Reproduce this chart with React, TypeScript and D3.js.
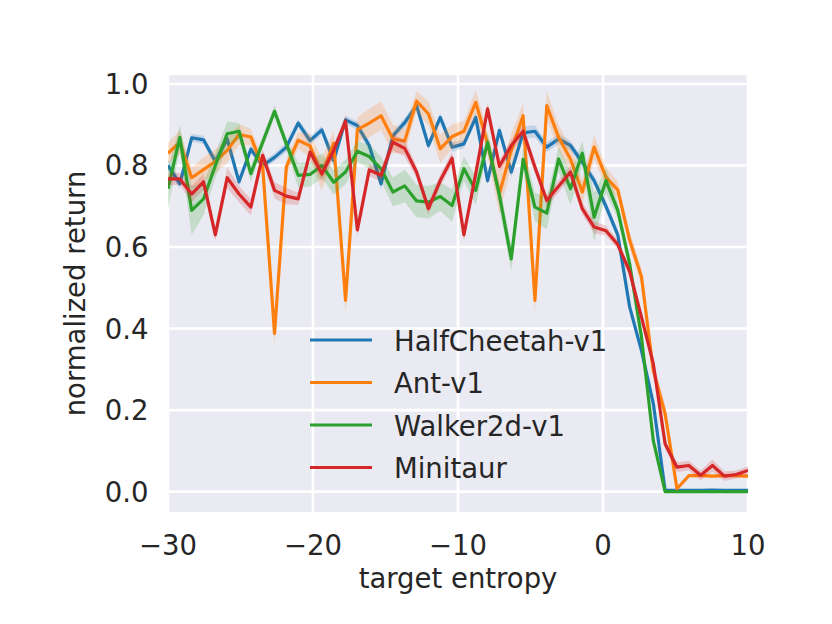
import React from "react";
import * as d3 from "d3";

const xTicks = [-30, -20, -10, 0, 10];
const yTicks = [0.0, 0.2, 0.4, 0.6, 0.8, 1.0];
const seriesNames = ["HalfCheetah-v1", "Ant-v1", "Walker2d-v1", "Minitaur"];
const seriesColors = ["#1f77b4", "#ff7f0e", "#2ca02c", "#d62728"];

// target entropy values: 50 evenly spaced settings between -30 and 10
const entropyStart = -30;
const entropyEnd = 10;
const entropyCount = 50;

const halfCheetah = [
  0.80, 0.755, 0.868, 0.863, 0.81, 0.865, 0.76, 0.84, 0.80, 0.82,
  0.845, 0.904, 0.861, 0.887, 0.812, 0.912, 0.898, 0.849, 0.755, 0.873,
  0.905, 0.947, 0.849, 0.918, 0.845, 0.853, 0.918, 0.763, 0.886, 0.784,
  0.88, 0.884, 0.845, 0.865, 0.849, 0.808, 0.763, 0.70, 0.63, 0.453,
  0.346, 0.216, 0.003, 0.003, 0.003, 0.003, 0.004, 0.003, 0.003, 0.003,
];
const ant = [
  0.83, 0.857, 0.77, 0.79, 0.81, 0.837, 0.876, 0.87, 0.797, 0.388,
  0.797, 0.862, 0.848, 0.778, 0.855, 0.469, 0.888, 0.904, 0.922, 0.865,
  0.86, 0.958, 0.927, 0.841, 0.871, 0.884, 0.955, 0.853, 0.731, 0.837,
  0.922, 0.469, 0.947, 0.869, 0.816, 0.735, 0.845, 0.771, 0.74, 0.617,
  0.527, 0.297, 0.191, 0.007, 0.039, 0.04, 0.038, 0.039, 0.039, 0.038,
];
const walker = [
  0.743, 0.869, 0.69, 0.718, 0.80, 0.878, 0.884, 0.78, 0.857, 0.933,
  0.853, 0.776, 0.778, 0.80, 0.759, 0.784, 0.835, 0.822, 0.792, 0.735,
  0.75, 0.713, 0.71, 0.724, 0.702, 0.792, 0.739, 0.857, 0.727, 0.571,
  0.815, 0.698, 0.683, 0.816, 0.743, 0.83, 0.673, 0.763, 0.69, 0.559,
  0.379, 0.125, 0.0, 0.0, 0.0, 0.0, 0.0, 0.0, 0.0, 0.0,
];
const minitaur = [
  0.767, 0.767, 0.73, 0.76, 0.63, 0.77, 0.73, 0.698, 0.825, 0.739,
  0.725, 0.718, 0.833, 0.78, 0.837, 0.909, 0.642, 0.789, 0.776, 0.857,
  0.842, 0.784, 0.694, 0.763, 0.818, 0.63, 0.78, 0.939, 0.798, 0.849,
  0.884, 0.796, 0.714, 0.749, 0.784, 0.694, 0.649, 0.64, 0.606, 0.54,
  0.428, 0.314, 0.117, 0.06, 0.064, 0.04, 0.064, 0.038, 0.042, 0.052,
];

// half-width of the shaded spread around each curve
const halfCheetahSpread = [
  0.015, 0.012, 0.01, 0.01, 0.012, 0.01, 0.012, 0.01, 0.01, 0.01,
  0.012, 0.01, 0.012, 0.01, 0.015, 0.01, 0.01, 0.012, 0.015, 0.01,
  0.012, 0.01, 0.012, 0.01, 0.012, 0.01, 0.012, 0.012, 0.012, 0.012,
  0.015, 0.015, 0.012, 0.012, 0.012, 0.01, 0.012, 0.012, 0.012, 0.012,
  0.012, 0.01, 0.003, 0.003, 0.003, 0.003, 0.003, 0.003, 0.003, 0.003,
];
const antSpread = [
  0.025, 0.03, 0.025, 0.03, 0.03, 0.03, 0.025, 0.02, 0.02, 0.03,
  0.02, 0.02, 0.03, 0.04, 0.03, 0.03, 0.03, 0.035, 0.035, 0.035,
  0.03, 0.025, 0.03, 0.035, 0.03, 0.025, 0.03, 0.03, 0.05, 0.04,
  0.03, 0.03, 0.035, 0.03, 0.03, 0.03, 0.03, 0.025, 0.02, 0.02,
  0.02, 0.02, 0.02, 0.005, 0.005, 0.005, 0.005, 0.005, 0.005, 0.005,
];
const walkerSpread = [
  0.05, 0.03, 0.06, 0.04, 0.03, 0.03, 0.02, 0.02, 0.015, 0.015,
  0.015, 0.03, 0.03, 0.03, 0.03, 0.03, 0.025, 0.03, 0.03, 0.035,
  0.04, 0.04, 0.04, 0.035, 0.04, 0.03, 0.035, 0.02, 0.03, 0.03,
  0.03, 0.035, 0.04, 0.03, 0.04, 0.03, 0.06, 0.03, 0.02, 0.02,
  0.02, 0.01, 0.002, 0.002, 0.002, 0.002, 0.002, 0.002, 0.002, 0.002,
];
const minitaurSpread = [
  0.015, 0.015, 0.02, 0.02, 0.015, 0.025, 0.02, 0.02, 0.015, 0.02,
  0.02, 0.015, 0.015, 0.02, 0.015, 0.015, 0.015, 0.015, 0.015, 0.02,
  0.02, 0.015, 0.015, 0.015, 0.015, 0.015, 0.015, 0.015, 0.015, 0.015,
  0.015, 0.015, 0.015, 0.015, 0.015, 0.015, 0.015, 0.012, 0.012, 0.012,
  0.012, 0.012, 0.012, 0.012, 0.012, 0.012, 0.015, 0.012, 0.01, 0.01,
];

const seriesValues = [halfCheetah, ant, walker, minitaur];
const seriesSpreads = [halfCheetahSpread, antSpread, walkerSpread, minitaurSpread];

const W = 832;
const H = 624;
const plot = { left: 168, right: 748, top: 75, bottom: 512 };
const FONT = "'DejaVu Sans', sans-serif";
const TEXT = "#262626";
const FS = 27.5;

export default function App() {
  const entropies = d3.range(entropyCount).map(
    (i) => entropyStart + (i * (entropyEnd - entropyStart)) / (entropyCount - 1)
  );
  const x = d3.scaleLinear().domain([-30, 10]).range([plot.left, plot.right]);
  const y = d3.scaleLinear().domain([-0.05, 1.022]).range([plot.bottom, plot.top]);

  const line = d3
    .line<number>()
    .x((_, i) => x(entropies[i]))
    .y((d) => y(d));

  const bandFor = (vals: number[], spread: number[]) =>
    d3
      .area<number>()
      .x((_, i) => x(entropies[i]))
      .y0((d, i) => y(d - spread[i]))
      .y1((d, i) => y(d + spread[i]))(vals) || "";

  const legendX0 = 310;
  const legendX1 = 372;
  const legendY0 = 340;
  const legendStep = 42.5;

  return (
    <svg
      width={W}
      height={H}
      style={{ position: "fixed", left: 0, top: 0, background: "#ffffff" }}
      fontFamily={FONT}
    >
      <defs>
        <clipPath id="plotclip">
          <rect
            x={plot.left}
            y={plot.top}
            width={plot.right - plot.left}
            height={plot.bottom - plot.top}
          />
        </clipPath>
      </defs>
      <rect
        x={plot.left}
        y={plot.top}
        width={plot.right - plot.left}
        height={plot.bottom - plot.top}
        fill="#EAEAF2"
      />
      <g clipPath="url(#plotclip)">
        {xTicks.map((t) => (
          <line
            key={"gx" + t}
            x1={x(t)}
            x2={x(t)}
            y1={plot.top}
            y2={plot.bottom}
            stroke="#ffffff"
            strokeWidth={2.6}
          />
        ))}
        {yTicks.map((t) => (
          <line
            key={"gy" + t}
            x1={plot.left}
            x2={plot.right}
            y1={y(t)}
            y2={y(t)}
            stroke="#ffffff"
            strokeWidth={2.6}
          />
        ))}
        {seriesValues.map((vals, k) => (
          <g key={"s" + k}>
            <path
              d={bandFor(vals, seriesSpreads[k])}
              fill={seriesColors[k]}
              fillOpacity={0.2}
              stroke="none"
            />
            <path
              d={line(vals) || ""}
              fill="none"
              stroke={seriesColors[k]}
              strokeWidth={3.2}
              strokeLinejoin="round"
            />
          </g>
        ))}
      </g>
      {yTicks.map((t) => (
        <text
          key={"yt" + t}
          x={148.5}
          y={y(t) + 10}
          textAnchor="end"
          fontSize={FS}
          fill={TEXT}
        >
          {t.toFixed(1)}
        </text>
      ))}
      {xTicks.map((t) => (
        <text
          key={"xt" + t}
          x={x(t)}
          y={555}
          textAnchor="middle"
          fontSize={FS}
          fill={TEXT}
        >
          {t < 0 ? "\u2212" + Math.abs(t) : String(t)}
        </text>
      ))}
      <text
        x={(plot.left + plot.right) / 2}
        y={588}
        textAnchor="middle"
        fontSize={FS}
        fill={TEXT}
      >
        target entropy
      </text>
      <text
        transform={`translate(85, ${(plot.top + plot.bottom) / 2}) rotate(-90)`}
        textAnchor="middle"
        fontSize={FS}
        fill={TEXT}
      >
        normalized return
      </text>
      {seriesNames.map((name, k) => {
        const ly = legendY0 + k * legendStep;
        return (
          <g key={"lg" + k}>
            <line
              x1={legendX0}
              x2={legendX1}
              y1={ly}
              y2={ly}
              stroke={seriesColors[k]}
              strokeWidth={3.2}
            />
            <text x={394} y={ly + 10.5} fontSize={FS} fill={TEXT}>
              {name}
            </text>
          </g>
        );
      })}
    </svg>
  );
}
